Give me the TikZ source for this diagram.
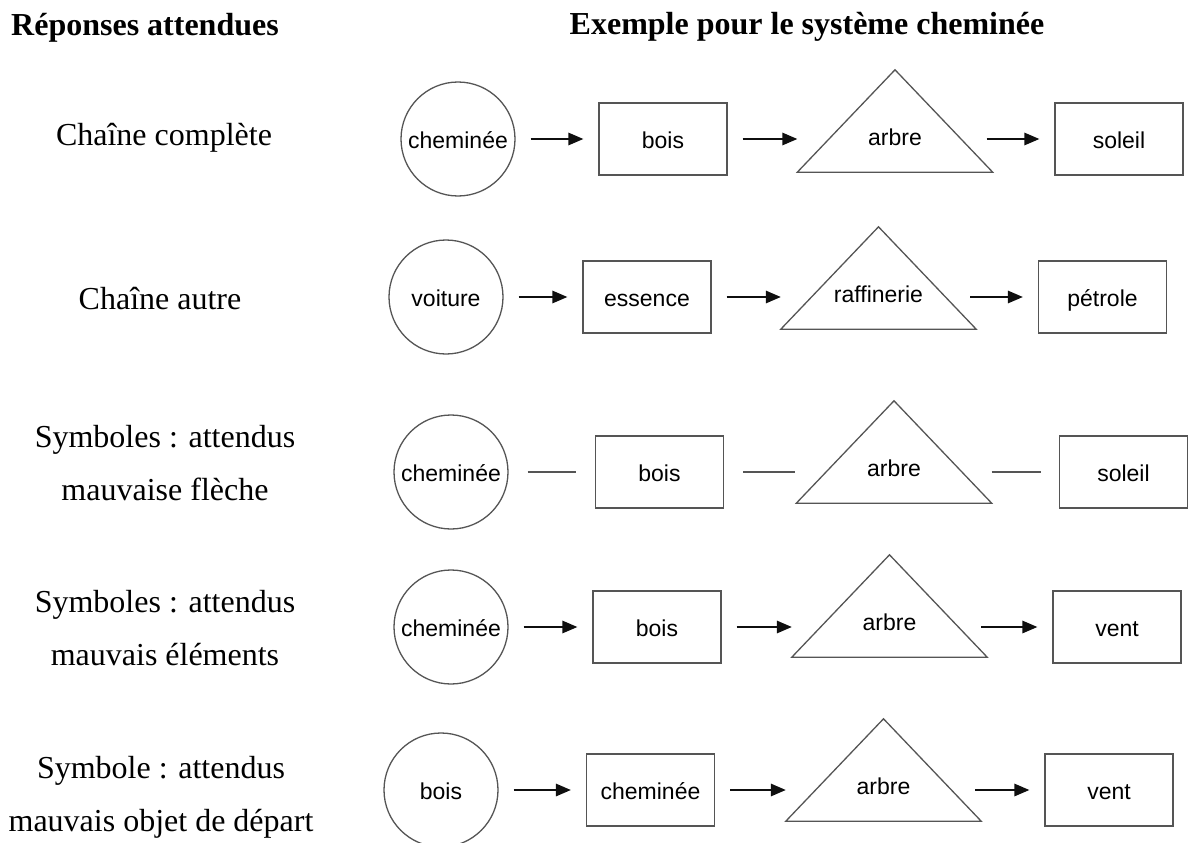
\documentclass[tikz,border=0pt]{standalone}
\usepackage{fontspec}
\setmainfont{Liberation Serif}
\newfontfamily\diagfont{Liberation Sans}
\usepackage{xcolor}
\usetikzlibrary{arrows.meta,calc}
\definecolor{shapecol}{RGB}{85,85,85}
\definecolor{inkcol}{RGB}{15,15,15}

\begin{document}
\begin{tikzpicture}[x=1pt, y=-1pt,
  head/.style={font=\fontsize{32}{40}\selectfont\bfseries, inner sep=0pt},
  side/.style={font=\fontsize{32}{53}\selectfont, align=center, inner sep=0pt},
  circ/.style={circle, draw=shapecol, line width=1.3pt, minimum size=114pt, inner sep=0pt,
               text height=18pt, text depth=0pt, font=\diagfont\fontsize{23}{26}\selectfont},
  box/.style={draw=shapecol, line width=1.3pt, minimum width=128pt, minimum height=72pt,
              inner sep=0pt, text height=18pt, text depth=0pt,
              font=\diagfont\fontsize{23}{26}\selectfont},
  tri/.style={minimum width=195pt, minimum height=102pt, text height=48pt, text depth=0pt,
              inner sep=0pt, font=\diagfont\fontsize{23}{26}\selectfont},
  triline/.style={draw=shapecol, line width=1.3pt, line join=miter},
  arr/.style={-{Triangle[length=15pt,width=12.5pt]}, draw=inkcol, line width=1.5pt,
              shorten <=15pt, shorten >=15pt},
  ln/.style={draw=shapecol, line width=1.5pt, shorten <=19pt, shorten >=19pt}]
  \useasboundingbox (0,0) rectangle (1195,843);

  % titres
  \node[head, anchor=base west] (hl) at (11,36) {Réponses attendues};
  \node[head, anchor=base] (hr) at (807,35) {Exemple pour le système cheminée};

  % colonne de gauche
  \node[side, anchor=base] (r1) at (164,146) {Chaîne complète};
  \node[side, anchor=base] (r2) at (160,309) {Chaîne autre};
  \node[side] (r3) at (165,463.5) {Symboles : attendus\\mauvaise flèche};
  \node[side] (r4) at (165,628) {Symboles : attendus\\mauvais éléments};
  \node[side] (r5) at (161,797.5) {Symbole : attendus\\mauvais objet de départ};

  % chaînes
  \node[circ] (c1) at (458,139) {cheminée};
  \node[box]  (b1) at (663,139) {bois};
  \node[tri]  (t1) at (895,121) {arbre};
  \node[box]  (s1) at (1119,139) {soleil};

  \node[circ] (c2) at (446,297) {voiture};
  \node[box]  (b2) at (647,297) {essence};
  \node[tri]  (t2) at (878.5,278) {raffinerie};
  \node[box]  (s2) at (1102.5,297) {pétrole};

  \node[circ] (c3) at (451,472) {cheminée};
  \node[box]  (b3) at (659.5,472) {bois};
  \node[tri]  (t3) at (894,452) {arbre};
  \node[box]  (s3) at (1123.5,472) {soleil};

  \node[circ] (c4) at (451,627) {cheminée};
  \node[box]  (b4) at (657,627) {bois};
  \node[tri]  (t4) at (889.5,606) {arbre};
  \node[box]  (s4) at (1117,627) {vent};

  \node[circ] (c5) at (441,790) {bois};
  \node[box]  (b5) at (650.5,790) {cheminée};
  \node[tri]  (t5) at (883.5,770) {arbre};
  \node[box]  (s5) at (1109,790) {vent};

  \foreach \n in {1,...,5}
    \draw[triline] (t\n.south west) -- (t\n.north) -- (t\n.south east) -- cycle;

  \foreach \n in {1,2,4,5} {
    \draw[arr] (c\n) -- (b\n);
    \draw[arr, shorten >=0pt] (b\n) -- (t\n.south west |- b\n);
    \draw[arr, shorten <=-6pt] (t\n.south east |- s\n) -- (s\n);
  }
  % sans pointes
  \draw[ln] (c3) -- (b3);
  \draw[ln, shorten >=1pt] (b3) -- (t3.south west |- b3);
  \draw[ln, shorten <=0pt, shorten >=18pt] (t3.south east |- s3) -- (s3);
\end{tikzpicture}
\end{document}
